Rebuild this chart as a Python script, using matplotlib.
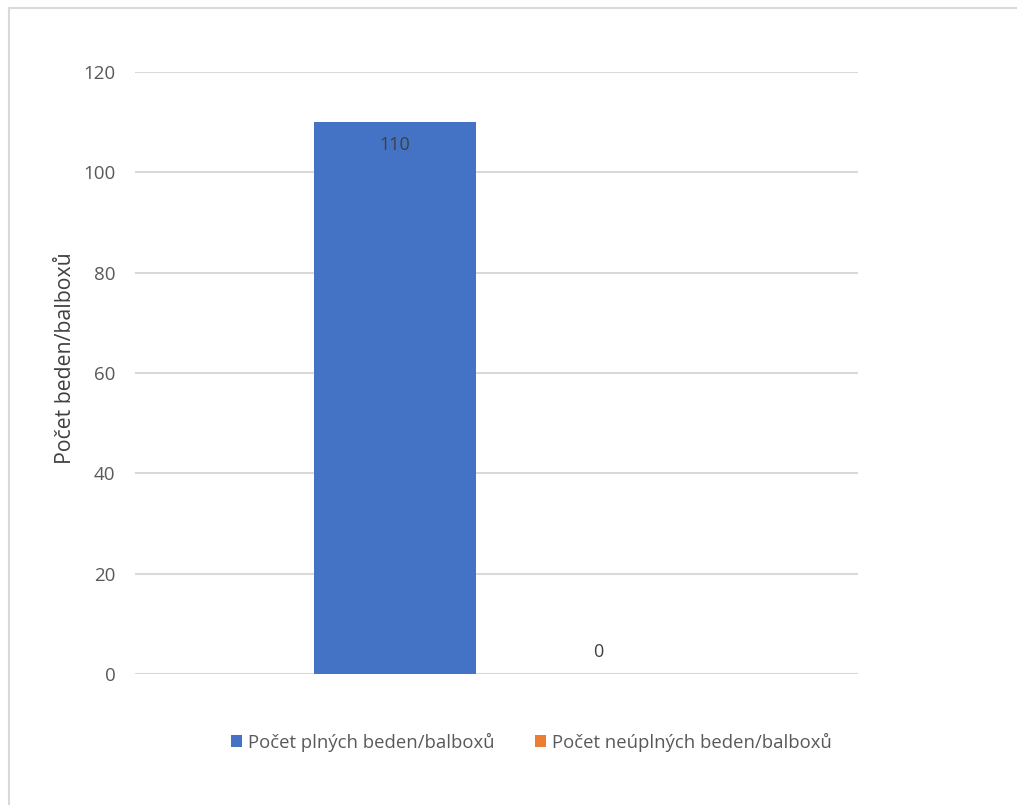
import matplotlib
matplotlib.use("Agg")
import matplotlib.pyplot as plt
from matplotlib.patches import Rectangle

# ---- Data ----
series_names = ["Počet plných beden/balboxů", "Počet neúplných beden/balboxů"]
series_values = [110, 0]
series_colors = ["#4472C4", "#ED7D31"]
y_ticks = [0, 20, 40, 60, 80, 100, 120]
y_label = "Počet beden/balboxů"

plt.rcParams["font.family"] = ["Open Sans", "DejaVu Sans"]
TEXT = "#595959"

fig = plt.figure(figsize=(10.17, 8.05), dpi=100)
ax = fig.add_axes([135 / 1017, 1 - 674 / 805, (858 - 135) / 1017, (674 - 72) / 805])

# chart border (left and top edges visible)
fig.patches.append(Rectangle((9 / 1017, -0.01), 1.1, 1 - 8 / 805 + 0.01,
                             transform=fig.transFigure, fill=False,
                             edgecolor="#d9d9d9", linewidth=1.5))

gap = 0.282
width = 0.224
for i, (name, val, col) in enumerate(zip(series_names, series_values, series_colors)):
    x = 0.5 + (i - 0.5) * gap
    ax.bar(x, val, width=width, color=col, label=name, zorder=3)
    if val > 10:
        ax.text(x, val - 2.8, str(val), ha="center", va="top", fontsize=13, color="#404040", zorder=4)
    else:
        ax.text(x, val + 2.5, str(val), ha="center", va="bottom", fontsize=13, color="#404040", zorder=4)

ax.set_xlim(0, 1)
ax.set_ylim(0, 120)
ax.set_yticks(y_ticks)
ax.set_xticks([])
ax.tick_params(axis="y", length=0, pad=14, labelsize=13.5, labelcolor=TEXT)
ax.grid(axis="y", color="#d9d9d9", linewidth=1.5, zorder=0)
for s in ax.spines.values():
    s.set_visible(False)
ax.set_ylabel(y_label, fontsize=15.3, color="#404040")
ax.yaxis.set_label_coords(-0.082, 0.525)

leg = ax.legend(loc="center", bbox_to_anchor=(0.548, -0.113), ncol=2, frameon=False,
                fontsize=13.3, handlelength=0.6, handleheight=0.6, handletextpad=0.3,
                columnspacing=2.2)
for t in leg.get_texts():
    t.set_color(TEXT)

fig.savefig("out.png", dpi=100)
